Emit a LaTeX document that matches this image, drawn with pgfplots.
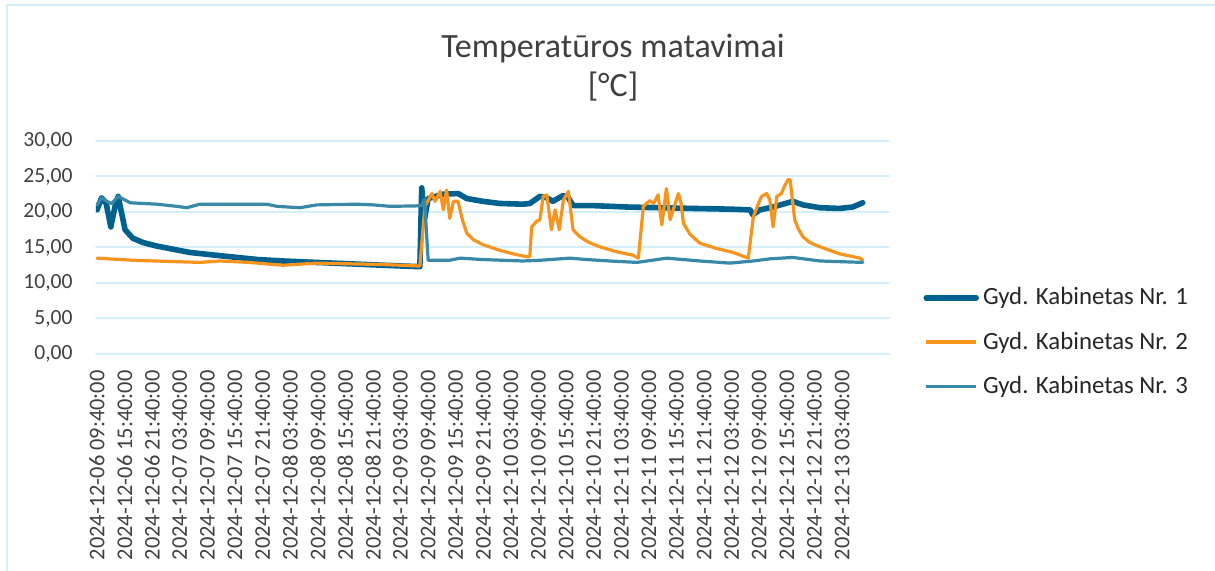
\documentclass[border=0pt]{standalone}
\usepackage{fontspec}
\setmainfont{Carlito}
\usepackage{pgfplots}
\pgfplotsset{compat=1.18}
\definecolor{cA}{RGB}{0,97,142}
\definecolor{cB}{RGB}{247,148,30}
\definecolor{cC}{RGB}{58,136,168}
\definecolor{gridc}{RGB}{212,238,250}
\definecolor{txt}{RGB}{64,64,64}
\begin{document}
\begin{tikzpicture}
\path[use as bounding box] (0pt,0pt) rectangle (607.5pt,285.5pt);
\draw[gridc, line width=1pt] (3.5pt,0pt) -- (3.5pt,283pt) -- (607.5pt,283pt);
\node[anchor=base, text=txt, font=\fontsize{17}{20}\selectfont, inner sep=0pt] at (306.5pt,256.5pt) {Temperatūros matavimai};
\node[anchor=base, text=txt, font=\fontsize{17}{20}\selectfont, inner sep=0pt] at (306.5pt,237pt) {[°C]};
\begin{axis}[
  at={(48pt,108.5pt)}, anchor=south west,
  scale only axis, width=396.5pt, height=106.5pt,
  xmin=-0.22, xmax=172.2, ymin=0, ymax=30,
  ytick={0,5,...,30},
  xtick={0,6,...,162},
  xticklabels={2024-12-06 09:40:00,2024-12-06 15:40:00,2024-12-06 21:40:00,2024-12-07 03:40:00,2024-12-07 09:40:00,2024-12-07 15:40:00,2024-12-07 21:40:00,2024-12-08 03:40:00,2024-12-08 09:40:00,2024-12-08 15:40:00,2024-12-08 21:40:00,2024-12-09 03:40:00,2024-12-09 09:40:00,2024-12-09 15:40:00,2024-12-09 21:40:00,2024-12-10 03:40:00,2024-12-10 09:40:00,2024-12-10 15:40:00,2024-12-10 21:40:00,2024-12-11 03:40:00,2024-12-11 09:40:00,2024-12-11 15:40:00,2024-12-11 21:40:00,2024-12-12 03:40:00,2024-12-12 09:40:00,2024-12-12 15:40:00,2024-12-12 21:40:00,2024-12-13 03:40:00},
  xticklabel style={rotate=90, anchor=east, inner sep=0pt, xshift=-8pt, text=txt, font=\fontsize{11.2}{13}\selectfont},
  yticklabel style={anchor=east, inner sep=0pt, xshift=-11.5pt, text=txt, font=\fontsize{10.8}{13}\selectfont},
  /pgf/number format/assume math mode=true,
  y tick label style={/pgf/number format/.cd, fixed, fixed zerofill, precision=2, use comma, 1000 sep={}},
  axis line style={draw=none},
  tick style={draw=none},
  ymajorgrids, grid style={gridc, line width=1pt},
  legend style={at={(axis description cs:1,0.056)}, anchor=west, xshift=17pt, draw=none, fill=none, inner sep=0pt, row sep=8pt, font=\fontsize{12.4}{14}\selectfont, text=black!85},
  legend cell align=left,
  legend image code/.code={\draw[#1] (0pt,0pt) -- (25pt,0pt);},
  line join=round, line cap=round,
]
\addplot[cA, line width=2.8pt, line cap=round] coordinates {
(0,20.3) (1.0,22.0) (2.0,21.2) (3.0,17.9) (4.0,21.0) (4.6,22.2) (6.1,17.5) (7.8,16.3) (10,15.7) (13.0,15.2) (20.2,14.3) (27.4,13.8) (35.0,13.3) (40.4,13.1) (51.3,12.8) (62.2,12.5) (66,12.4) (70.2,12.3) (70.6,23.4) (71.2,19.0) (72.0,21.9) (75.2,22.5) (78.5,22.6) (80.4,21.9) (83.9,21.5) (87.6,21.2) (92.6,21.1) (94.1,21.2) (96.3,22.2) (97.8,22.0) (99.1,21.5) (101.3,22.3) (102.3,22.2) (103.5,20.9) (107.8,20.9) (115.2,20.7) (122.4,20.6) (129.6,20.5) (137.6,20.4) (142.0,20.3) (142.6,19.6) (144.1,20.3) (147.0,20.7) (151.3,21.5) (153.5,21.0) (157.2,20.6) (161.5,20.5) (164.3,20.7) (166.5,21.3)
};
\addlegendentry{Gyd. Kabinetas Nr. 1}
\addplot[cB, line width=1.6pt] coordinates {
(0,13.5) (7.8,13.2) (22.4,12.9) (26.7,13.1) (33,12.9) (40.4,12.5) (47.8,12.8) (62.2,12.6) (69.8,12.4) (70.2,12.4) (71.3,20.8) (72.8,22.6) (73.5,21.5) (74.6,22.9) (75.3,20.3) (76.0,23.1) (76.7,19.1) (77.5,21.5) (78.5,21.5) (79.4,19.0) (80.4,17.0) (81.8,16.1) (83.9,15.4) (87.6,14.6) (90.5,14.1) (93.4,13.7) (94.1,13.7) (94.5,17.9) (95.6,18.7) (96.3,18.9) (97.0,22.2) (97.8,22.4) (98.8,17.5) (99.6,20.3) (100.5,17.5) (101.4,21.7) (102.5,22.9) (103.5,17.5) (105.0,16.5) (107,15.7) (109.3,15.1) (113,14.4) (116.6,13.9) (117.7,13.5) (118.8,20.8) (120.2,21.6) (121.0,21.2) (122.0,22.4) (122.8,18.2) (123.8,23.3) (124.6,18.9) (126.4,22.6) (127.0,21.2) (127.5,18.4) (129,16.8) (131.1,15.6) (134.5,14.9) (138.3,14.3) (141.6,13.5) (142.7,19.3) (143.8,21.2) (144.5,22.2) (145.6,22.6) (146.3,21.7) (147.0,17.9) (147.8,22.2) (148.8,22.6) (149.6,23.8) (150.3,24.6) (150.7,24.5) (151.7,18.9) (152.5,17.6) (153.5,16.5) (155,15.7) (157.2,15.1) (161.5,14.1) (165.9,13.5) (166.5,13.2)
};
\addlegendentry{Gyd. Kabinetas Nr. 2}
\addplot[cC, line width=1.6pt] coordinates {
(0,21.0) (1.0,22.0) (2.4,21.4) (3.2,21.2) (4.6,22.2) (7.2,21.3) (13.0,21.1) (17.3,20.8) (19.5,20.6) (22.4,21.1) (35.0,21.1) (36.9,21.1) (39.1,20.8) (44.1,20.6) (47.8,21.0) (56.5,21.1) (60.1,21.0) (63.7,20.8) (69.1,20.85) (70.6,20.9) (71.2,21.8) (72.0,13.2) (76.7,13.2) (78.9,13.5) (83.9,13.3) (92.6,13.1) (96.3,13.2) (102.8,13.5) (106.5,13.3) (111.5,13.1) (117.4,12.9) (123.9,13.5) (131.1,13.1) (137.6,12.8) (142.7,13.1) (146.3,13.4) (151.3,13.6) (157.2,13.1) (166.5,12.9)
};
\addlegendentry{Gyd. Kabinetas Nr. 3}
\end{axis}
\end{tikzpicture}
\end{document}
